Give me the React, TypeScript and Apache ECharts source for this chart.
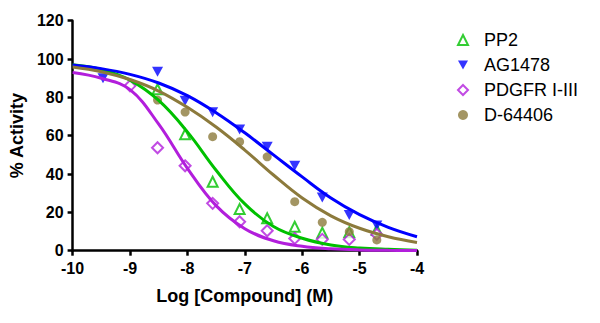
import React, { useEffect, useRef } from "react";
import * as echarts from "echarts";

const logConc = [-9.47, -9.0, -8.52, -8.04, -7.56, -7.09, -6.61, -6.13, -5.65, -5.18, -4.7];
const pp2Pts = [null, null, 84.2, 60.7, 36, 21.7, 16.9, 12.5, 9.4, 9.6, 10.8];
const ag1478Pts = [90, null, 93.4, 78.3, 72.3, 63.3, 54.3, 44.3, 27.8, 18.6, 13.2];
const pdgfrPts = [null, 86, 53.7, 44.3, 24.7, 15.1, 10.4, 6.4, 5.9, 5.9, 8.5];
const d64406Pts = [null, null, 78.6, 72.3, 59.5, 56.9, 49, 25.6, 14.8, 9.9, 5.6];

const curveX = [-10, -9.5, -9, -8.5, -8, -7.5, -7, -6.5, -6, -5.5, -5, -4.5, -4];
const pp2Fit = [97.0, 94.6, 89.0, 78.4, 62.0, 42.0, 24.4, 12.6, 6.5, 3.0, 1.4, 0.7, 0.3];
const ag1478Fit = [96.9, 95.0, 92.0, 87.5, 80.9, 72.0, 61.5, 50.0, 38.5, 27.5, 18.8, 12.2, 7.3];
const pdgfrFit = [93.0, 90.0, 84.0, 66.0, 43.0, 23.5, 11.5, 5.2, 2.3, 1.0, 0.4, 0.2, 0.1];
const d64406Fit = [95.9, 93.4, 89.3, 83.3, 74.8, 64.5, 52.5, 39.5, 27.5, 18.2, 11.7, 7.3, 4.3];

const yTicks = [0, 20, 40, 60, 80, 100, 120];

const GREEN = "#00C000";
const BLUE = "#0000FF";
const MAGENTA = "#B21EDC";
const BROWN = "#8C7A3C";
const FONT = "Arial, 'Liberation Sans', sans-serif";
const DOWN_TRI = "path://M0,0 L10,0 L5,9 Z";

function pts(ys: (number | null)[]) {
  return logConc.map((x, i) => [x, ys[i]]).filter((p) => p[1] !== null);
}
function fit(ys: number[]) {
  return curveX.map((x, i) => [x, ys[i]]);
}

export default function App() {
  const ref = useRef<HTMLDivElement>(null);
  useEffect(() => {
    if (!ref.current) return;
    const chart = echarts.init(ref.current, null, { renderer: "svg" });
    const lineSeries = (name: string, data: number[], color: string) => ({
      name,
      type: "line",
      data: fit(data),
      smooth: 0.4,
      showSymbol: false,
      symbol: "none",
      lineStyle: { color, width: 3 },
      z: 3,
      silent: true,
    });
    chart.setOption({
      animation: false,
      grid: { left: 71, right: 183, top: 20.7, bottom: 72.3 },
      legend: {
        orient: "vertical",
        left: 452,
        top: 26,
        itemWidth: 10,
        itemHeight: 10,
        itemGap: 7,
        data: ["PP2", "AG1478", "PDGFR I-III", "D-64406"],
        textStyle: {
          fontFamily: FONT,
          fontSize: 18,
          color: "#000",
          padding: [0, 0, 0, 11],
        },
      },
      xAxis: {
        type: "value",
        min: -10,
        max: -4,
        interval: 1,
        name: "Log [Compound] (M)",
        nameLocation: "middle",
        nameGap: 36,
        nameTextStyle: { fontFamily: FONT, fontSize: 18, fontWeight: "bold", color: "#000" },
        axisLine: { show: true, onZero: false, lineStyle: { color: "#000", width: 2.5 } },
        axisTick: { show: true, length: 5, lineStyle: { color: "#000", width: 2.5 } },
        axisLabel: { fontFamily: FONT, fontSize: 16, fontWeight: "bold", color: "#000", margin: 10 },
        splitLine: { show: false },
      },
      yAxis: {
        type: "value",
        min: yTicks[0],
        max: yTicks[yTicks.length - 1],
        interval: 20,
        name: "% Activity",
        nameLocation: "middle",
        nameGap: 44,
        nameRotate: 90,
        nameTextStyle: { fontFamily: FONT, fontSize: 18, fontWeight: "bold", color: "#000" },
        axisLine: { show: true, lineStyle: { color: "#000", width: 2.5 } },
        axisTick: { show: true, length: 5, lineStyle: { color: "#000", width: 2.5 } },
        axisLabel: { fontFamily: FONT, fontSize: 16, fontWeight: "bold", color: "#000", margin: 9 },
        splitLine: { show: false },
      },
      series: [
        {
          name: "PP2",
          type: "scatter",
          data: pts(pp2Pts),
          symbol: "triangle",
          symbolSize: 10,
          itemStyle: { color: "#fff", borderColor: GREEN, borderWidth: 2 },
          z: 2,
        },
        {
          name: "AG1478",
          type: "scatter",
          data: pts(ag1478Pts),
          symbol: DOWN_TRI,
          symbolSize: [11, 10],
          itemStyle: { color: BLUE },
          z: 2,
        },
        {
          name: "PDGFR I-III",
          type: "scatter",
          data: pts(pdgfrPts),
          symbol: "diamond",
          symbolSize: 11,
          itemStyle: { color: "#fff", borderColor: MAGENTA, borderWidth: 2 },
          z: 2,
        },
        {
          name: "D-64406",
          type: "scatter",
          data: pts(d64406Pts),
          symbol: "circle",
          symbolSize: 9,
          itemStyle: { color: BROWN },
          z: 2,
        },
        lineSeries("PP2 fit", pp2Fit, GREEN),
        lineSeries("AG1478 fit", ag1478Fit, BLUE),
        lineSeries("PDGFR I-III fit", pdgfrFit, MAGENTA),
        lineSeries("D-64406 fit", d64406Fit, BROWN),
      ],
    });
    return () => chart.dispose();
  }, []);
  return <div ref={ref} style={{ width: 600, height: 323, position: "absolute", left: 0, top: 0 }} />;
}
